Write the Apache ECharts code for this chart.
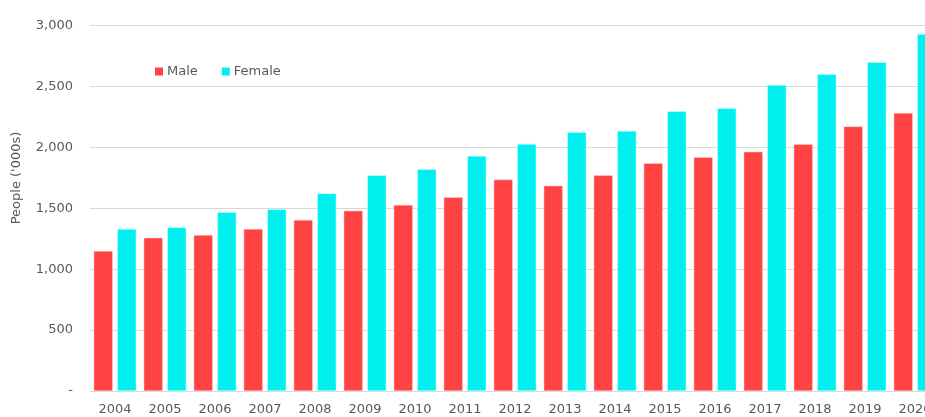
<!DOCTYPE html>
<html>
<head>
<meta charset="utf-8">
<script src="https://cdn.jsdelivr.net/npm/echarts@6/dist/echarts.min.js"></script>
<style>
  html, body { margin: 0; padding: 0; background: #fff; }
  #chart { width: 925px; height: 417px; }
</style>
</head>
<body>
<div id="chart"></div>
<script>
// years shown on the x axis (last one runs off the edge)
var years = ['2004', '2005', '2006', '2007', '2008', '2009', '2010', '2011', '2012',
  '2013', '2014', '2015', '2016', '2017', '2018', '2019', '2020'];

// people, thousands
var male = [1150, 1258, 1280, 1330, 1404, 1480, 1527, 1590, 1735,
  1685, 1770, 1869, 1918, 1964, 2025, 2172, 2282];
var female = [1330, 1343, 1467, 1491, 1622, 1770, 1820, 1929, 2027,
  2123, 2134, 2296, 2320, 2512, 2599, 2698, 2930];

var yTicks = [0, 500, 1000, 1500, 2000, 2500, 3000];

var textColor = '#595959';
var font = 'DejaVu Sans, Verdana, sans-serif';

var chart = echarts.init(document.getElementById('chart'));

chart.setOption({
  animation: false,
  textStyle: { fontFamily: font, color: textColor },
  legend: {
    left: 155,
    top: 65,
    padding: 0,
    icon: 'rect',
    itemWidth: 8,
    itemHeight: 8,
    itemGap: 24,
    itemStyle: { borderWidth: 0 },
    textStyle: { fontFamily: font, fontSize: 13, color: textColor, padding: [0, 0, 0, -1] },
    data: ['Male', 'Female']
  },
  grid: {
    left: 90, top: 25.5, width: 850, bottom: 26,
    containLabel: false, outerBoundsMode: 'none'
  },
  xAxis: {
    type: 'category',
    data: years,
    axisTick: { show: false },
    axisLine: { lineStyle: { color: '#d9d9d9', width: 1 } },
    axisLabel: { color: textColor, fontSize: 13, fontFamily: font, margin: 12 }
  },
  yAxis: {
    type: 'value',
    min: yTicks[0],
    max: yTicks[yTicks.length - 1],
    interval: 500,
    axisLine: { show: false },
    axisTick: { show: false },
    splitLine: { lineStyle: { color: '#d9d9d9', width: 1 } },
    axisLabel: {
      color: textColor,
      fontSize: 13,
      fontFamily: font,
      margin: 17,
      formatter: function (v) {
        return v === 0 ? '-' : v.toLocaleString('en-US');
      }
    }
  },
  graphic: [{
    type: 'text',
    x: 17,
    y: 178,
    rotation: Math.PI / 2,
    style: {
      text: "People ('000s)",
      fill: textColor,
      font: '13px ' + font,
      align: 'center',
      verticalAlign: 'middle'
    }
  }],
  series: [
    {
      name: 'Male',
      type: 'bar',
      data: male,
      barWidth: 19,
      barGap: '24%',
      itemStyle: { color: '#ff4343', borderColor: '#ffd0d0', borderWidth: 0.5 }
    },
    {
      name: 'Female',
      type: 'bar',
      data: female,
      barWidth: 19,
      itemStyle: { color: '#00f0f0', borderColor: '#c8ffff', borderWidth: 0.5 }
    }
  ]
});
</script>
</body>
</html>
